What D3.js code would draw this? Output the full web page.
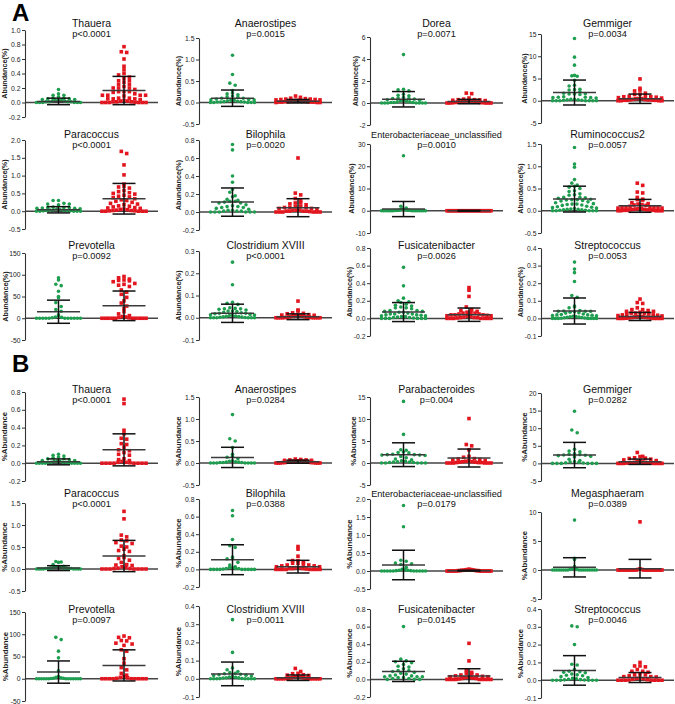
<!DOCTYPE html>
<html>
<head>
<meta charset="utf-8">
<script src="https://cdn.jsdelivr.net/npm/d3@7"></script>
<style>
  body { margin: 0; background: #fff; }
  svg { display: block; }
</style>
</head>
<body>
<svg id="chart" width="675" height="704"></svg>
<script>
// ---- data ----
const taxaA = ['Thauera', 'Anaerostipes', 'Dorea', 'Gemmiger', 'Paracoccus', 'Bilophila',
  'Enterobacteriaceae_unclassified', 'Ruminococcus2', 'Prevotella', 'Clostridium XVIII',
  'Fusicatenibacter', 'Streptococcus'];
const pValuesA = ['p<0.0001', 'p=0.0015', 'p=0.0071', 'p=0.0034', 'p<0.0001', 'p=0.0020',
  'p=0.0010', 'p=0.0057', 'p=0.0092', 'p<0.0001', 'p=0.0026', 'p=0.0053'];
const yDomainA = [[-0.2, 1], [-0.5, 1.5], [-2, 6], [-5, 15], [-0.5, 2], [-0.2, 0.8],
  [-10, 30], [-0.5, 1.5], [-50, 150], [-0.1, 0.3], [-0.2, 0.8], [-0.1, 0.4]];
const tickStepA = [0.2, 0.5, 2, 5, 0.5, 0.2, 10, 0.5, 50, 0.1, 0.2, 0.1];

const taxaB = ['Thauera', 'Anaerostipes', 'Parabacteroides', 'Gemmiger', 'Paracoccus', 'Bilophila',
  'Enterobacteriaceae-unclassified', 'Megasphaeram', 'Prevotella', 'Clostridium XVIII',
  'Fusicatenibacter', 'Streptococcus'];
const pValuesB = ['p<0.0001', 'p=0.0284', 'p=0.004', 'p=0.0282', 'p<0.0001', 'p=0.0388',
  'p=0.0179', 'p=0.0389', 'p=0.0097', 'p=0.0011', 'p=0.0145', 'p=0.0046'];
const yDomainB = [[-0.2, 0.8], [-0.5, 1.5], [-5, 15], [-5, 20], [-0.5, 1.5], [-0.2, 0.8],
  [-0.5, 2], [-5, 10], [-50, 150], [-0.1, 0.4], [-0.2, 0.8], [-0.1, 0.4]];
const tickStepB = [0.2, 0.5, 5, 5, 0.5, 0.2, 0.5, 5, 50, 0.1, 0.2, 0.1];

// mean and SD per panel: [green, red]
const meanA = [[0.015, 0.165], [0.1, 0.03], [0.34, 0.13], [1.85, 0.45], [0.04, 0.35], [0.11, 0.048],
  [0.76, 0], [0.262, 0.11], [15, 28.6], [0.02, 0.0045], [0.072, 0.042], [0.042, 0.011]];
const sdA = [[0.045, 0.195], [0.19, 0.04], [0.7, 0.2], [2.8, 1.05], [0.088, 0.43], [0.157, 0.1],
  [3.4, 0.2], [0.29, 0.145], [26.6, 34], [0.041, 0.013], [0.108, 0.076], [0.074, 0.023]];
const meanB = [[0.015, 0.15], [0.127, 0.03], [1.89, 1.13], [2.37, 0.47], [0.02, 0.295], [0.11, 0.031],
  [0.167, 0.01], [0.46, 0.23], [15, 30], [0.027, 0.006], [0.091, 0.038], [0.055, 0.015]];
const sdB = [[0.033, 0.18], [0.23, 0.035], [2.7, 2.04], [3.6, 0.76], [0.055, 0.355], [0.17, 0.072],
  [0.41, 0.012], [1.66, 1.6], [25, 35], [0.065, 0.015], [0.115, 0.083], [0.083, 0.028]];

// individual samples, green group (section A)
const greenA = [
  [0.18,0.12,0.1,0.1,0.08,0.06,0.06,0.05,0.05,0.04,0.04,0.03,0.03,0.03,0.02,0.02,0.01,0.01,0.01,0.01,0,0,0,0,0,0],
  [1.1,0.65,0.45,0.4,0.28,0.22,0.2,0.18,0.15,0.13,0.12,0.1,0.1,0.08,0.07,0.06,0.06,0.05,0.05,0.04,0.03,0.02,0.02,0.01,0.01,0.01,0,0,0,0,0],
  [4.4,1.25,1.2,1.1,0.8,0.7,0.65,0.5,0.45,0.4,0.4,0.35,0.3,0.25,0.2,0.2,0.15,0.1,0.1,0.05,0.05,0.05,0,0,0,0,0,0,0],
  [14,9.8,8,5.7,5.6,5.5,4.6,3.5,3.3,2.6,2.5,2.4,2,1.7,1.6,1.5,1.5,1.4,0.9,0.8,0.8,0.7,0.7,0.6,0.3,0.3,0.2,0.2,0.1,0.1,0,0,0,0,0,0,0],
  [0.3,0.3,0.22,0.2,0.2,0.18,0.12,0.1,0.1,0.1,0.09,0.08,0.08,0.07,0.06,0.04,0.04,0.03,0.03,0.02,0.02,0.01,0.01,0,0,0,0,0],
  [0.75,0.69,0.4,0.33,0.25,0.22,0.18,0.17,0.14,0.13,0.12,0.12,0.11,0.1,0.1,0.08,0.07,0.06,0.06,0.05,0.05,0.04,0.03,0.02,0.02,0.01,0.01,0.01,0,0,0,0,0,0],
  [24.7,2,1.2,0.8,0.5,0.4,0.3,0.2,0.2,0.1,0.1,0.1,0,0,0,0,0,0,0,0,0,0,0,0,0,0,0],
  [1.42,1.05,0.98,0.7,0.62,0.58,0.55,0.53,0.5,0.45,0.43,0.38,0.36,0.35,0.3,0.3,0.29,0.28,0.26,0.25,0.25,0.24,0.23,0.22,0.2,0.18,0.16,0.15,0.15,0.14,0.13,0.12,0.1,0.09,0.08,0.07,0.06,0.05,0.04,0.03,0.03,0.02,0.02,0.01,0.01,0,0,0,0,0],
  [93,88,78,75,62,50,47,36,27,20,16,8,5,3,2,1,0,0,0,0,0,0,0,0,0,0,0],
  [0.25,0.148,0.07,0.065,0.06,0.045,0.042,0.04,0.04,0.038,0.035,0.03,0.03,0.028,0.025,0.022,0.02,0.02,0.018,0.015,0.013,0.012,0.01,0.01,0.008,0.006,0.005,0.004,0.003,0.002,0.001,0,0,0,0,0,0],
  [0.58,0.37,0.23,0.2,0.19,0.18,0.16,0.15,0.14,0.13,0.12,0.12,0.11,0.09,0.09,0.08,0.08,0.07,0.07,0.06,0.05,0.05,0.05,0.04,0.04,0.035,0.03,0.03,0.02,0.02,0.015,0.01,0.01,0.005,0,0,0,0,0,0],
  [0.32,0.28,0.26,0.21,0.13,0.12,0.07,0.065,0.06,0.045,0.042,0.04,0.04,0.04,0.038,0.035,0.032,0.03,0.025,0.022,0.02,0.02,0.018,0.016,0.015,0.012,0.01,0.009,0.008,0.006,0.005,0.004,0.002,0.001,0,0,0,0,0,0,0]
];

// individual samples, red group (section A)
const redA = [
  [0.77,0.7,0.69,0.6,0.5,0.45,0.4,0.38,0.35,0.33,0.3,0.3,0.28,0.25,0.25,0.22,0.2,0.2,0.2,0.18,0.15,0.15,0.15,0.14,0.12,0.1,0.1,0.1,0.1,0.09,0.06,0.06,0.05,0.05,0.05,0.04,0.03,0.02,0.02,0.01,0.01,0.01,0.005,0,0,0,0,0,0],
  [0.15,0.12,0.1,0.09,0.08,0.08,0.07,0.07,0.06,0.06,0.05,0.05,0.045,0.04,0.03,0.03,0.02,0.02,0.02,0.01,0.01,0.01,0.01,0,0,0],
  [0.9,0.85,0.45,0.35,0.3,0.3,0.28,0.25,0.22,0.2,0.2,0.18,0.17,0.12,0.1,0.1,0.08,0.05,0.05,0.03,0.02,0,0,0,0,0],
  [4.9,2.8,2.4,2.2,1.7,1.5,1.4,1,1,0.9,0.9,0.8,0.7,0.6,0.5,0.5,0.45,0.3,0.3,0.2,0.2,0.2,0.1,0.1,0.1,0.1,0,0,0,0],
  [1.68,1.62,1.3,1.02,0.76,0.7,0.68,0.65,0.58,0.55,0.52,0.5,0.48,0.45,0.42,0.4,0.38,0.35,0.32,0.3,0.28,0.25,0.22,0.2,0.18,0.15,0.14,0.12,0.1,0.09,0.08,0.06,0.05,0.04,0.03,0.02,0.02,0.01,0.01,0,0,0,0,0],
  [0.6,0.21,0.19,0.15,0.13,0.1,0.1,0.09,0.08,0.06,0.06,0.05,0.05,0.05,0.04,0.04,0.03,0.02,0.02,0.02,0.01,0.01,0.01,0.01,0.005,0,0,0,0,0,0],
  [0,0,0,0,0,0,0,0,0,0,0,0,0,0,0,0,0,0,0,0,0,0,0,0,0,0,0,0],
  [0.62,0.57,0.42,0.4,0.3,0.26,0.25,0.24,0.18,0.16,0.15,0.14,0.13,0.12,0.1,0.09,0.08,0.08,0.07,0.07,0.06,0.06,0.05,0.05,0.04,0.03,0.03,0.02,0.02,0.02,0.01,0.01,0.01,0,0,0,0,0],
  [96,93,90,88,87,86,84,80,78,76,73,65,60,55,48,40,35,28,22,15,10,6,4,3,2,1,0,0,0,0,0,0,0,0,0,0],
  [0.075,0.035,0.03,0.022,0.02,0.018,0.014,0.012,0.011,0.01,0.01,0.009,0.008,0.007,0.006,0.005,0.004,0.003,0.002,0.002,0.001,0.001,0,0,0,0,0,0,0,0],
  [0.35,0.32,0.25,0.13,0.1,0.09,0.08,0.07,0.07,0.06,0.06,0.05,0.05,0.04,0.04,0.04,0.035,0.03,0.03,0.025,0.02,0.015,0.01,0.01,0.008,0.005,0,0,0,0,0,0,0],
  [0.11,0.09,0.085,0.06,0.05,0.05,0.045,0.04,0.04,0.035,0.03,0.03,0.03,0.025,0.022,0.02,0.02,0.018,0.016,0.014,0.012,0.01,0.009,0.008,0.006,0.005,0.004,0.003,0.002,0.001,0,0,0,0,0,0,0]
];

// individual samples, green group (section B)
const greenB = [
  [0.1,0.09,0.08,0.07,0.06,0.05,0.05,0.04,0.03,0.03,0.02,0.02,0.02,0.01,0.01,0.01,0.01,0.005,0,0,0,0,0,0,0,0],
  [1.1,0.55,0.5,0.35,0.2,0.15,0.13,0.1,0.05,0.04,0.03,0.02,0.02,0.01,0.01,0.01,0,0,0,0,0,0,0],
  [14,6.5,3,2.9,2.5,2.4,2.3,2,1.9,1.9,1.8,1.8,1.7,1.5,1.2,0.9,0.7,0.5,0.4,0.3,0.2,0.2,0.1,0.1,0,0,0,0,0],
  [14.8,9.5,8.7,4,3.5,3.3,2.7,2.6,2.5,2.4,2.3,2.2,2,1.8,1.2,0.8,0.5,0.4,0.3,0.2,0.1,0,0,0,0,0,0],
  [0.17,0.16,0.15,0.1,0.06,0.05,0.04,0.04,0.03,0.03,0.02,0.02,0.02,0.01,0.01,0.01,0.01,0,0,0,0,0,0,0,0],
  [0.67,0.61,0.34,0.27,0.25,0.14,0.13,0.12,0.08,0.05,0.03,0.02,0.02,0.01,0.01,0.01,0.005,0,0,0,0,0,0,0,0,0],
  [1.82,1.23,0.3,0.27,0.22,0.2,0.18,0.1,0.05,0.03,0.02,0.02,0.01,0.01,0,0,0,0,0,0,0,0,0,0],
  [8.6,2,1.8,0.6,0.3,0.2,0.1,0.1,0,0,0,0,0,0,0,0,0,0,0,0,0,0,0,0,0],
  [93,88,62,47,18,5,3,2,1,1,0.5,0,0,0,0,0,0,0,0,0,0,0,0,0],
  [0.325,0.145,0.06,0.05,0.04,0.035,0.03,0.028,0.025,0.022,0.02,0.018,0.015,0.012,0.01,0.008,0.006,0.005,0.004,0.002,0.001,0,0,0,0,0,0,0],
  [0.6,0.23,0.21,0.2,0.19,0.17,0.15,0.14,0.12,0.1,0.1,0.09,0.08,0.07,0.06,0.05,0.04,0.04,0.03,0.03,0.03,0.02,0.02,0.01,0.01,0,0,0],
  [0.305,0.3,0.2,0.09,0.085,0.06,0.05,0.048,0.045,0.042,0.035,0.03,0.028,0.025,0.02,0.015,0.01,0.008,0.005,0.003,0.002,0.001,0,0,0,0,0,0]
];

// individual samples, red group (section B)
const redB = [
  [0.72,0.67,0.37,0.33,0.28,0.27,0.22,0.21,0.18,0.15,0.14,0.12,0.1,0.09,0.05,0.04,0.03,0.02,0.01,0.01,0.005,0,0,0,0,0,0,0,0],
  [0.09,0.08,0.07,0.07,0.06,0.06,0.05,0.05,0.05,0.04,0.04,0.03,0.03,0.03,0.02,0.02,0.02,0.01,0.01,0.01,0.01,0,0,0,0,0,0],
  [10.1,4.2,3.9,3,1.5,1.3,1,0.9,0.8,0.7,0.6,0.5,0.4,0.3,0.3,0.2,0.2,0.1,0.1,0.1,0,0,0,0,0,0],
  [3.1,2,1.9,1.6,1.5,1.4,1.2,1,0.8,0.6,0.5,0.4,0.3,0.3,0.2,0.2,0.1,0.1,0.1,0,0,0,0,0,0,0],
  [1.31,1.14,0.77,0.73,0.66,0.64,0.6,0.58,0.52,0.5,0.45,0.42,0.4,0.3,0.26,0.24,0.2,0.15,0.1,0.09,0.08,0.05,0.03,0.02,0.01,0.01,0,0,0,0,0,0,0],
  [0.26,0.23,0.15,0.1,0.1,0.08,0.07,0.07,0.06,0.05,0.05,0.04,0.04,0.03,0.03,0.02,0.02,0.01,0.01,0.01,0.005,0,0,0,0,0,0,0,0],
  [0.05,0.04,0.04,0.03,0.03,0.02,0.02,0.02,0.01,0.01,0.01,0.01,0,0,0,0,0,0,0,0,0,0,0,0,0],
  [8.3,0.2,0.1,0.1,0,0,0,0,0,0,0,0,0,0,0,0,0,0,0,0,0,0,0,0,0,0],
  [96,93,92,86,85,80,78,75,65,62,45,35,25,20,12,8,5,3,2,1,0,0,0,0,0,0,0,0,0],
  [0.057,0.04,0.03,0.028,0.022,0.02,0.018,0.012,0.01,0.01,0.008,0.006,0.005,0.004,0.003,0.002,0.001,0,0,0,0,0,0,0,0,0],
  [0.41,0.21,0.1,0.08,0.07,0.06,0.05,0.05,0.04,0.035,0.03,0.03,0.025,0.02,0.02,0.015,0.01,0.01,0.005,0,0,0,0,0,0,0,0,0],
  [0.1,0.08,0.08,0.075,0.06,0.05,0.05,0.045,0.035,0.03,0.03,0.025,0.02,0.02,0.018,0.012,0.01,0.008,0.005,0.003,0.001,0,0,0,0,0,0,0]
];

// ---- layout (pixels) ----
const FONT = '"Liberation Sans", Arial, Helvetica, sans-serif';
const GREEN = '#1f9e50';
const RED = '#e3151f';
const colX = [25, 199, 370, 541];      // y-axis position of each column
const plotW = 133;
const greenDx = 33.5, redDx = 99;      // group centres relative to the axis
const BIN_H = 4.6, DOT_GAP = 5.4, MAX_ROW_W = 44;

// axis extent [top, bottom] in px for every panel
const axisPxA = [[30, 117], [38, 124], [37, 125], [34, 123], [140, 229], [140, 230],
  [144, 233], [144, 233], [253, 340], [251, 340], [248, 336], [248, 336]];
const axisPxB = [[392, 481], [397, 485], [397, 485], [393, 481], [503, 591], [499, 587],
  [499, 589], [512, 599], [612, 701], [606, 697], [609, 697], [609, 698]];
const titleYA = [27, 138, 249];
const titleYB = [393, 497, 613];

const sections = [
  { letter: 'A', letterY: 21, yLabel: 'Abundance(%)', labelSize: 7.2, taxa: taxaA, pValues: pValuesA,
    domains: yDomainA, steps: tickStepA, mean: meanA, sd: sdA, green: greenA, red: redA,
    axisPx: axisPxA, titleY: titleYA },
  { letter: 'B', letterY: 372, yLabel: '%Abundance', labelSize: 7.8, taxa: taxaB, pValues: pValuesB,
    domains: yDomainB, steps: tickStepB, mean: meanB, sd: sdB, green: greenB, red: redB,
    axisPx: axisPxB, titleY: titleYB }
];

const svg = d3.select('#chart').style('font-family', FONT);

// Helper: Prism-like scatter, points binned by height and laid side by side,
// the first values of a row sitting nearest the centre.
function swarm(values, y, cx) {
  const y0 = y(0);
  const rows = d3.group(values, v => Math.round((y0 - y(v)) / BIN_H));
  const pts = [];
  rows.forEach(vals => {
    const n = vals.length;
    const gap = n > 1 ? Math.min(DOT_GAP, MAX_ROW_W / (n - 1)) : 0;
    const offsets = d3.range(n).map(k => (k - (n - 1) / 2) * gap)
      .sort((a, b) => Math.abs(a) - Math.abs(b) || a - b);
    vals.forEach((v, k) => pts.push({ x: cx + offsets[k], y: y(v) }));
  });
  return pts;
}

// Helper: mean line with SD whiskers.
function drawStats(g, y, cx, m, s) {
  g.append('line')
    .attr('x1', cx - 21.5).attr('x2', cx + 21.5)
    .attr('y1', y(m)).attr('y2', y(m))
    .attr('stroke', '#3a3a3a').attr('stroke-width', 1.5);
  g.append('line')
    .attr('x1', cx).attr('x2', cx)
    .attr('y1', y(m - s)).attr('y2', y(m + s))
    .attr('stroke', '#111').attr('stroke-width', 1.5);
  [m + s, m - s].forEach(v => {
    g.append('line')
      .attr('x1', cx - 11.5).attr('x2', cx + 11.5)
      .attr('y1', y(v)).attr('y2', y(v))
      .attr('stroke', '#111').attr('stroke-width', 1.5);
  });
}

function drawPanel(sec, i) {
  const col = i % 4, row = Math.floor(i / 4);
  const x0 = colX[col];
  const [yTop, yBot] = sec.axisPx[i];
  const [lo, hi] = sec.domains[i];
  const step = sec.steps[i];
  const y = d3.scaleLinear().domain([lo, hi]).range([yBot, yTop]);
  const g = svg.append('g').attr('class', 'panel');

  // title and p value, shrunk to the panel width if too long
  const title = g.append('text')
    .attr('x', x0 + plotW / 2).attr('y', sec.titleY[row])
    .attr('text-anchor', 'middle').attr('font-size', 10.5).attr('fill', '#111')
    .text(sec.taxa[i]);
  const tw = title.node().getComputedTextLength();
  if (tw > 131) title.attr('font-size', 10.5 * 131 / tw);
  g.append('text')
    .attr('x', x0 + plotW / 2).attr('y', sec.titleY[row] + 9.5)
    .attr('text-anchor', 'middle').attr('font-size', 9.2).attr('fill', '#111')
    .text(sec.pValues[i]);

  // zero line
  g.append('line')
    .attr('x1', x0).attr('x2', x0 + plotW)
    .attr('y1', y(0)).attr('y2', y(0))
    .attr('stroke', '#444').attr('stroke-width', 1.5);

  // points
  const greenPts = swarm(sec.green[i], y, x0 + greenDx);
  const redPts = swarm(sec.red[i], y, x0 + redDx);
  g.selectAll('circle.g').data(greenPts).enter().append('circle')
    .attr('class', 'g').attr('cx', d => d.x).attr('cy', d => d.y).attr('r', 1.8)
    .attr('fill', GREEN);
  g.selectAll('rect.r').data(redPts).enter().append('rect')
    .attr('class', 'r').attr('x', d => d.x - 1.8).attr('y', d => d.y - 1.8)
    .attr('width', 3.6).attr('height', 3.6).attr('fill', RED);

  drawStats(g, y, x0 + greenDx, sec.mean[i][0], sec.sd[i][0]);
  drawStats(g, y, x0 + redDx, sec.mean[i][1], sec.sd[i][1]);

  // y axis
  const nTicks = Math.round((hi - lo) / step);
  const ticks = d3.range(nTicks + 1).map(k => +(lo + k * step).toFixed(6));
  const fmt = step < 1 ? d3.format('.1f') : d3.format('d');
  const ax = g.append('g')
    .attr('transform', `translate(${x0},0)`)
    .call(d3.axisLeft(y).tickValues(ticks).tickFormat(v => fmt(v).replace('−', '-'))
      .tickSize(3).tickSizeOuter(0).tickPadding(1.5))
    .attr('font-family', FONT).attr('font-size', 6.8);
  ax.select('.domain').attr('stroke', '#333').attr('stroke-width', 1.1);
  ax.selectAll('.tick line').attr('stroke', '#333').attr('stroke-width', 1);
  ax.selectAll('.tick text').attr('fill', '#222');

  const maxW = d3.max(ax.selectAll('.tick text').nodes(), n => n.getComputedTextLength());
  const lx = x0 - 4.5 - maxW - 1.5;
  g.append('text')
    .attr('transform', `translate(${lx},${(yTop + yBot) / 2}) rotate(-90)`)
    .attr('text-anchor', 'middle').attr('font-size', sec.labelSize).attr('font-weight', 'bold')
    .attr('fill', '#222')
    .text(sec.yLabel);
}

sections.forEach(sec => {
  svg.append('text')
    .attr('x', 12).attr('y', sec.letterY)
    .attr('font-size', 24).attr('font-weight', 'bold').attr('fill', '#000')
    .text(sec.letter);
  sec.taxa.forEach((t, i) => drawPanel(sec, i));
});
console.log('[chart] drawn', sections.length, 'sections');
</script>
</body>
</html>
